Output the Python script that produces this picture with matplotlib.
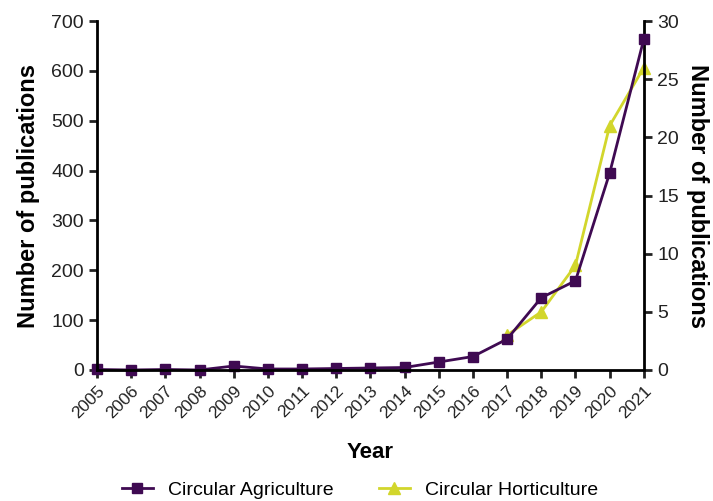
import matplotlib
matplotlib.use("Agg")
import matplotlib.pyplot as plt
from matplotlib.lines import Line2D
import numpy as np

years = list(range(2005, 2022))
agriculture = [1, 0, 1, 0, 8, 2, 2, 3, 4, 5, 16, 27, 62, 145, 179, 395, 664]
horticulture = [np.nan] * 12 + [3, 5, 9, 21, 26]

purple = "#3f0a52"
yellow = "#d2d62c"

plt.rcParams['font.family'] = ['Liberation Sans', 'DejaVu Sans']

fig = plt.figure(figsize=(7.13, 5.01), dpi=100)
ax = fig.add_axes([0.136, 0.2615, 0.767, 0.6965])
ax2 = ax.twinx()

ax2.plot(years, horticulture, color=yellow, lw=2, marker='^', ms=8, clip_on=False)
ax.plot(years, agriculture, color=purple, lw=2, marker='s', ms=7.5, clip_on=False)
ax.set_zorder(ax2.get_zorder() + 1)
ax.patch.set_visible(False)

ax.set_xlim(2005, 2021)
ax.set_ylim(0, 700)
ax2.set_ylim(0, 30)
ax.set_yticks(range(0, 701, 100))
ax2.set_yticks(range(0, 31, 5))
ax.set_xticks(years)
ax.set_xticklabels([str(y) for y in years], rotation=45, ha='right', rotation_mode='anchor', fontsize=12.5)

for a in (ax, ax2):
    a.spines['top'].set_visible(False)
    for s in ('left', 'right', 'bottom'):
        a.spines[s].set_linewidth(2)
    a.tick_params(width=2, length=6, labelsize=14, colors='#222222')
ax.tick_params(axis='x', labelsize=12.5)
ax.spines['right'].set_visible(False)
ax2.spines['left'].set_visible(False)
ax2.spines['bottom'].set_visible(False)

ax.set_ylabel("Number of publications", fontsize=17, fontweight='bold', labelpad=8)
ax2.set_ylabel("Number of publications", fontsize=17, fontweight='bold', rotation=270, labelpad=22)
ax.set_xlabel("Year", fontsize=16, fontweight='bold', labelpad=15)

handles = [Line2D([], [], color=purple, lw=2, marker='s', ms=6.5),
           Line2D([], [], color=yellow, lw=2, marker='^', ms=8)]
fig.legend(handles, ["Circular Agriculture", "Circular Horticulture"], loc='center',
           bbox_to_anchor=(0.505, 0.022), ncol=2, frameon=False, fontsize=14,
           handlelength=1.6, columnspacing=2.3)

fig.savefig("out.png", dpi=100)
